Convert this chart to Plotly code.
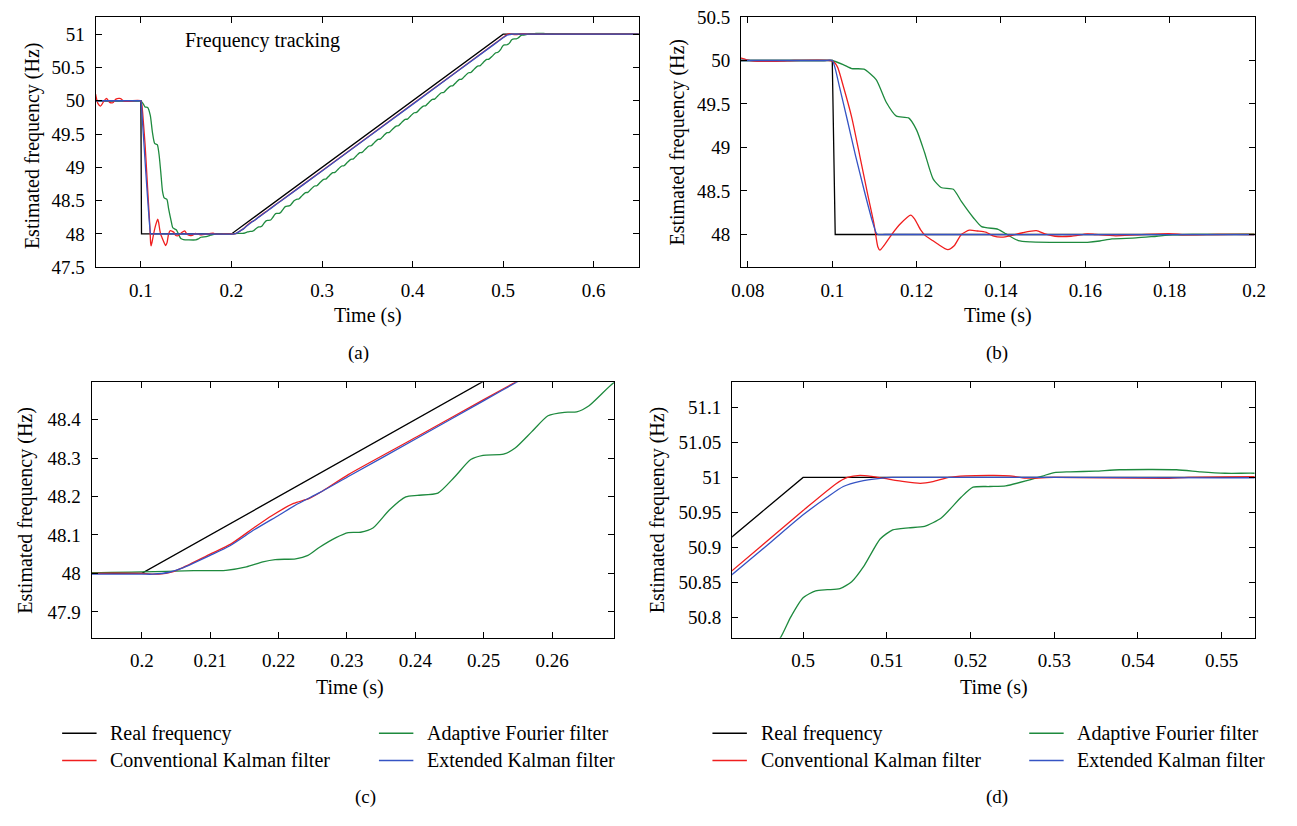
import plotly.graph_objects as go

W, H = 1297, 826
FONT = "Liberation Serif"

# ---------------- data ----------------
t_real = [0.05, 0.1, 0.1007, 0.2, 0.5, 0.65]
f_real = [50.0, 50.0, 48.0, 48.0, 51.0, 51.0]

t_ekf = [0.05, 0.098, 0.1, 0.1007, 0.1017, 0.1036, 0.1055, 0.1075, 0.1094, 0.1104, 0.1108,
         0.1125, 0.2, 0.2016, 0.204, 0.2058, 0.21, 0.2129, 0.2165, 0.2201, 0.2225, 0.226,
         0.2302, 0.2403, 0.2499, 0.2546, 0.3, 0.4, 0.4915, 0.4961, 0.5, 0.5029,
         0.5048, 0.5068, 0.5092, 0.5107, 0.513, 0.53, 0.55, 0.65]
f_ekf = [50.0, 50.0, 50.0, 49.907, 49.70, 49.31, 48.91, 48.52, 48.17, 48.02, 48.0,
         48.0, 47.998, 47.998, 48.003, 48.013, 48.047, 48.072, 48.114, 48.152, 48.178, 48.21,
         48.252, 48.352, 48.448, 48.495, 48.945, 49.945, 50.861, 50.907, 50.9465, 50.972,
         50.987, 50.9944, 50.9986, 51.0, 51.0, 51.0, 50.9995, 51.0]

t_ckf = [0.05, 0.0525, 0.0555, 0.059, 0.062, 0.0655, 0.069, 0.0725, 0.0765, 0.0784,
         0.0795, 0.0814, 0.0853, 0.0882, 0.091, 0.0995, 0.1, 0.1012, 0.1027, 0.1046, 0.1065,
         0.1084, 0.1099, 0.1108, 0.1113, 0.1123, 0.1142, 0.1161, 0.1186, 0.1195, 0.121,
         0.122, 0.1235, 0.125, 0.1274, 0.1289, 0.1306, 0.1325, 0.1345, 0.1364, 0.1383,
         0.1402, 0.1422, 0.1451, 0.1484, 0.1504, 0.1528, 0.1566, 0.1605, 0.1624, 0.1672,
         0.172, 0.1798, 0.1836, 0.1913, 0.2, 0.2025, 0.2045, 0.206, 0.21, 0.213,
         0.2165, 0.219, 0.2222, 0.2245, 0.2265, 0.2302, 0.2403, 0.25, 0.2547, 0.3,
         0.4, 0.4915, 0.5, 0.5039, 0.5053, 0.5068, 0.5082, 0.5097, 0.5121, 0.514,
         0.5155, 0.5174, 0.5194, 0.5228, 0.5247, 0.5266, 0.53, 0.5431, 0.546, 0.5539,
         0.65]
f_ckf = [50.1, 49.96, 49.92, 49.99, 50.035, 49.975, 49.97, 50.025, 50.034, 50.026,
         50.011, 49.993, 49.99, 49.993, 50.0, 50.0, 49.995, 49.93, 49.69, 49.35, 48.91,
         48.46, 48.12, 47.86, 47.82, 47.875, 48.007, 48.12, 48.222, 48.18, 48.05,
         47.99, 47.94, 47.89, 47.825, 47.87, 48.0, 48.05, 48.04, 48.026, 47.98,
         47.97, 47.985, 48.02, 48.044, 48.007, 47.98, 47.98, 48.007, 48.0, 47.985,
         47.996, 48.01, 47.996, 48.0, 48.0, 47.998, 48.004, 48.015, 48.05, 48.076,
         48.12, 48.15, 48.182, 48.195, 48.215, 48.257, 48.356, 48.452, 48.498, 48.95,
         49.95, 50.8665, 50.9526, 50.9907, 51.0, 51.003, 51.0014, 50.9986, 50.994, 50.9916,
         50.994, 51.0, 51.0023, 51.003, 51.0023, 50.999, 51.0, 50.9986, 51.0, 51.001,
         51.0]

t_aff = [0.05, 0.098, 0.1, 0.1027, 0.1046, 0.1075, 0.1104, 0.1128, 0.1152, 0.1181, 0.12,
         0.1219, 0.1239, 0.1258, 0.1287, 0.1306, 0.1335, 0.1354, 0.1393, 0.1412, 0.1441,
         0.147, 0.1528, 0.1605, 0.1634, 0.1663, 0.172, 0.1769, 0.1807, 0.1855, 0.2,
         0.2076, 0.2123, 0.2153, 0.2177, 0.2195, 0.2225, 0.2243, 0.226, 0.2284, 0.2302,
         0.232, 0.2338, 0.2362, 0.2386, 0.2403, 0.2433, 0.2457, 0.2481, 0.2499, 0.2529,
         0.2546, 0.257, 0.2594, 0.2618, 0.2636, 0.2654, 0.2691,
         0.2718, 0.2743, 0.278, 0.2818, 0.2843, 0.288, 0.2918, 0.2943, 0.298,
         0.3018, 0.3043, 0.308, 0.3118, 0.3143, 0.318, 0.3218, 0.3243, 0.328,
         0.3318, 0.3343, 0.338, 0.3418, 0.3443, 0.348, 0.3518, 0.3543, 0.358,
         0.3618, 0.3643, 0.368, 0.3718, 0.3743, 0.378, 0.3818, 0.3843, 0.388,
         0.3918, 0.3943, 0.398, 0.4018, 0.4043, 0.408, 0.4118, 0.4143, 0.418,
         0.4218, 0.4243, 0.428, 0.4318, 0.4343, 0.438, 0.4418, 0.4443, 0.448,
         0.4518, 0.4543, 0.458, 0.4618, 0.4643, 0.468, 0.4718, 0.4743, 0.478,
         0.4818, 0.4843, 0.488, 0.4918, 0.4943,
         0.4973, 0.4985, 0.5, 0.5015, 0.5029, 0.5044, 0.5058, 0.5073, 0.5092, 0.5107,
         0.5126, 0.5145, 0.5165, 0.5189, 0.5203, 0.5223, 0.5242, 0.5266, 0.5286, 0.53,
         0.5319, 0.5349, 0.5378, 0.5446, 0.5475, 0.5504, 0.5539, 0.56, 0.58, 0.65]
f_aff = [50.0, 50.0, 50.0, 49.95, 49.907, 49.9, 49.78, 49.52, 49.36, 49.34, 49.2,
         48.94, 48.64, 48.54, 48.52, 48.38, 48.19, 48.09, 48.06, 48.007, 47.93,
         47.915, 47.91, 47.91, 47.925, 47.95, 47.96, 47.98, 47.995, 48.0, 48.004,
         48.007, 48.008, 48.017, 48.03, 48.036, 48.038, 48.047, 48.068, 48.093, 48.106,
         48.107, 48.118, 48.165, 48.199, 48.203, 48.209, 48.25, 48.296, 48.307, 48.31,
         48.326, 48.368, 48.41, 48.419, 48.42, 48.436, 48.497,
         48.52, 48.524, 48.575, 48.62, 48.624, 48.675, 48.72, 48.724, 48.775,
         48.82, 48.824, 48.875, 48.92, 48.924, 48.975, 49.02, 49.024, 49.075,
         49.12, 49.124, 49.175, 49.22, 49.224, 49.275, 49.32, 49.324, 49.375,
         49.42, 49.424, 49.475, 49.52, 49.524, 49.575, 49.62, 49.624, 49.675,
         49.72, 49.724, 49.775, 49.82, 49.824, 49.875, 49.92, 49.924, 49.975,
         50.02, 50.024, 50.075, 50.12, 50.124, 50.175, 50.22, 50.224, 50.275,
         50.32, 50.324, 50.375, 50.42, 50.424, 50.475, 50.52, 50.524, 50.575,
         50.62, 50.624, 50.67, 50.72, 50.728,
         50.771, 50.8, 50.828, 50.838, 50.8395, 50.841, 50.851, 50.874, 50.912, 50.925,
         50.928, 50.93, 50.942, 50.972, 50.986, 50.987, 50.988, 50.995, 51.002, 51.007,
         51.008, 51.009, 51.011, 51.011, 51.008, 51.006, 51.006, 51.004, 51.001, 51.0]

series_names = ["Real frequency", "Adaptive Fourier filter",
                "Conventional Kalman filter", "Extended Kalman filter"]
series_colors = ["#000000", "#1e8a3e", "#f01e1e", "#3553c4"]

# per-panel tick values and labels
a_xticks = [0.1, 0.2, 0.3, 0.4, 0.5, 0.6]
a_xlabels = ["0.1", "0.2", "0.3", "0.4", "0.5", "0.6"]
a_yticks = [47.5, 48, 48.5, 49, 49.5, 50, 50.5, 51]
a_ylabels = ["47.5", "48", "48.5", "49", "49.5", "50", "50.5", "51"]

b_xticks = [0.08, 0.1, 0.12, 0.14, 0.16, 0.18, 0.2]
b_xlabels = ["0.08", "0.1", "0.12", "0.14", "0.16", "0.18", "0.2"]
b_yticks = [48, 48.5, 49, 49.5, 50, 50.5]
b_ylabels = ["48", "48.5", "49", "49.5", "50", "50.5"]

c_xticks = [0.2, 0.21, 0.22, 0.23, 0.24, 0.25, 0.26]
c_xlabels = ["0.2", "0.21", "0.22", "0.23", "0.24", "0.25", "0.26"]
c_yticks = [47.9, 48, 48.1, 48.2, 48.3, 48.4]
c_ylabels = ["47.9", "48", "48.1", "48.2", "48.3", "48.4"]

d_xticks = [0.5, 0.51, 0.52, 0.53, 0.54, 0.55]
d_xlabels = ["0.5", "0.51", "0.52", "0.53", "0.54", "0.55"]
d_yticks = [50.8, 50.85, 50.9, 50.95, 51, 51.05, 51.1]
d_ylabels = ["50.8", "50.85", "50.9", "50.95", "51", "51.05", "51.1"]

panels = [
    dict(box=(87, 639, 7, 264), xr=[0.05, 0.6496], yr=[47.499, 51.26],
         xt=(a_xticks, a_xlabels), yt=(a_yticks, a_ylabels)),
    dict(box=(743, 1265, 7, 264), xr=[0.07836, 0.2001], yr=[47.623, 50.502],
         xt=(b_xticks, b_xlabels), yt=(b_yticks, b_ylabels)),
    dict(box=(83, 614, 382, 644), xr=[0.19267, 0.26906], yr=[47.833, 48.497],
         xt=(c_xticks, c_xlabels), yt=(c_yticks, c_ylabels)),
    dict(box=(734, 1265, 382, 644), xr=[0.49152, 0.55392], yr=[50.771, 51.136],
         xt=(d_xticks, d_xlabels), yt=(d_yticks, d_ylabels)),
]

series = [(t_real, f_real), (t_aff, f_aff), (t_ckf, f_ckf), (t_ekf, f_ekf)]

fig = go.Figure()
layout = dict(width=W, height=H, margin=dict(l=0, r=0, t=0, b=0),
              paper_bgcolor="white", plot_bgcolor="white", showlegend=False,
              font=dict(family=FONT, color="black", size=19))


def px(x):
    return x / W


def py(y):
    return 1 - y / H


for i, p in enumerate(panels):
    n = "" if i == 0 else str(i + 1)
    x0, x1, y0, y1 = p["box"]
    common = dict(showline=True, linecolor="black", linewidth=1, mirror="ticks",
                  ticks="inside", ticklen=6, tickcolor="black", tickwidth=1,
                  showgrid=False, zeroline=False, ticklabeloverflow="allow",
                  tickfont=dict(family=FONT, size=19, color="black"))
    layout["xaxis" + n] = dict(domain=[px(x0), px(x1)], range=p["xr"],
                               anchor="y" + n, tickvals=p["xt"][0], ticktext=p["xt"][1],
                               ticklabelstandoff=6, **common)
    layout["yaxis" + n] = dict(domain=[py(y1), py(y0)], range=p["yr"],
                               anchor="x" + n, tickvals=p["yt"][0], ticktext=p["yt"][1],
                               ticklabelstandoff=6, **common)
    for k, (tt, ff) in enumerate(series):
        fig.add_trace(go.Scatter(
            x=tt, y=ff, mode="lines", name=series_names[k],
            line=dict(color=series_colors[k], width=1.3,
                      shape="linear" if k == 0 else "spline",
                      smoothing=0.6 if k else None),
            xaxis="x" + n, yaxis="y" + n, hoverinfo="skip"))

ann = []


def text(x, y, s, size=19, angle=0, xanchor="center"):
    ann.append(dict(x=px(x), y=py(y), xref="paper", yref="paper", text=s,
                    showarrow=False, textangle=angle, xanchor=xanchor, yanchor="middle",
                    font=dict(family=FONT, size=size, color="black")))


# axis titles
for (x, y) in [(364, 313), (1004, 313), (346, 695), (1000, 695)]:
    text(x, y, "Time (s)", size=20)
for (x, y) in [(23, 139), (679, 136), (16, 513), (659, 513)]:
    text(x, y, "Estimated frequency (Hz)", size=20, angle=-90)

# panel labels
for (x, y, s) in [(354, 352, "(a)"), (1003, 352, "(b)"), (361, 808, "(c)"), (1003, 808, "(d)")]:
    text(x, y, s, size=19)

text(257, 31, "Frequency tracking", size=20)

# legends below (c) and (d)
shapes = []
placement = [(0, 0), (0, 1), (1, 0), (1, 1)]  # (row, col) for each series
for base in [100, 761]:
    cols = [base, base + 322]
    rows = [742, 770]
    for k in range(4):
        r, c = placement[k]
        tx = cols[c]
        ty = rows[r]
        shapes.append(dict(type="line", xref="paper", yref="paper",
                           x0=px(tx - 47), x1=px(tx - 12), y0=py(ty), y1=py(ty),
                           line=dict(color=series_colors[k], width=1.5)))
        text(tx, ty, series_names[k], size=20, xanchor="left")

layout["annotations"] = ann
layout["shapes"] = shapes
fig.update_layout(**layout)
fig.write_html("out.html")
